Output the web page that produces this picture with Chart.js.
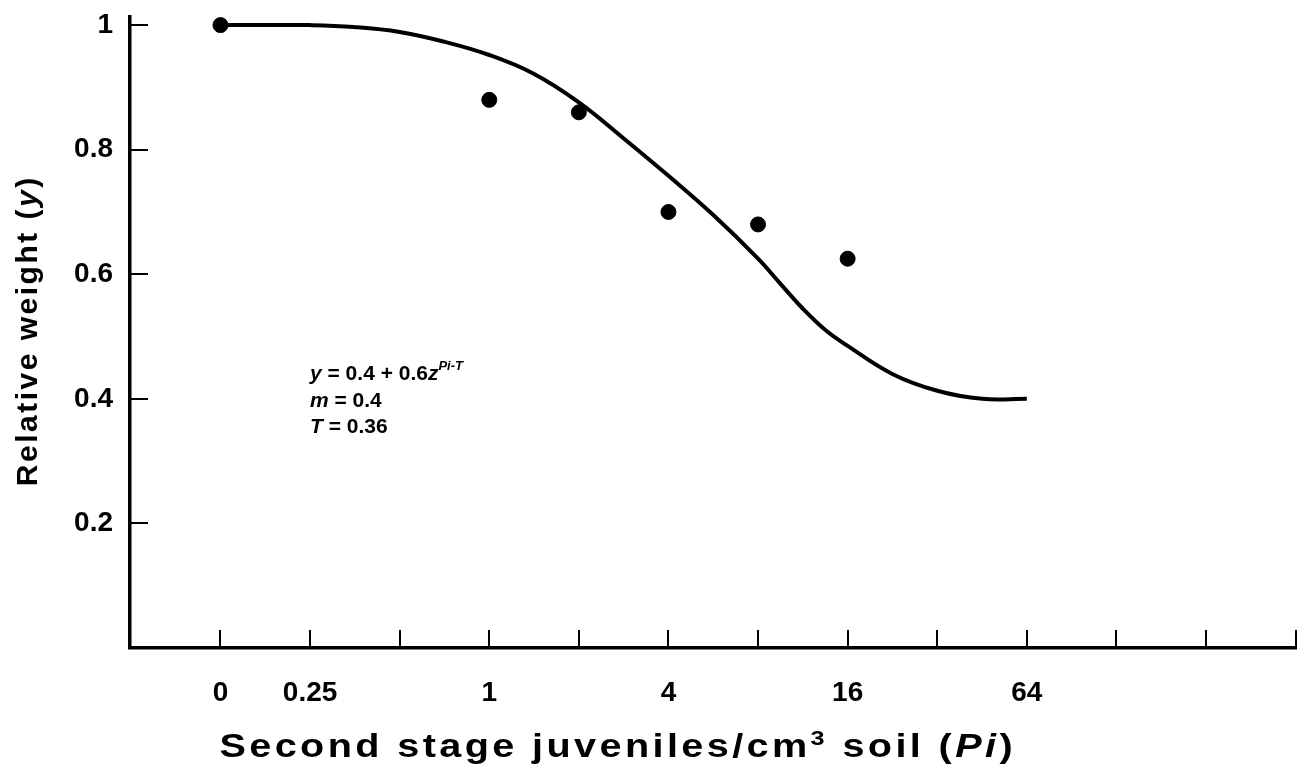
<!DOCTYPE html>
<html>
<head>
<meta charset="utf-8">
<script src="https://cdn.jsdelivr.net/npm/chart.js@4.4.1/dist/chart.umd.min.js"></script>
<style>
html, body { margin: 0; padding: 0; background: #fff; }
</style>
</head>
<body>
<canvas id="graph" width="1305" height="772"></canvas>
<script>
// x axis is log2 of Pi, with 0 drawn one step left of 0.25
var tickLabels = ['0', '0.25', '', '1', '', '4', '', '16', '', '64', '', '', ''];
var yTicks = [0.2, 0.4, 0.6, 0.8, 1];

var obsPi = [0, 1, 2, 4, 8, 16];
var obsWeight = [1.0, 0.88, 0.86, 0.70, 0.68, 0.625];

var curvePi = [0, 0.18, 0.25, 0.35, 0.5, 0.71, 1, 1.41, 2, 2.83, 4, 5.66, 8, 9.5, 11.3, 13.5, 16, 22.6, 32, 45.3, 64];
var curveWeight = [1.0, 1.0, 1.0, 0.997, 0.989, 0.973, 0.952, 0.922, 0.876, 0.818, 0.758, 0.695, 0.625, 0.585, 0.545, 0.51, 0.485, 0.44, 0.413, 0.40, 0.40];

var FONT = '"Liberation Sans", Arial, sans-serif';

function pos(pi) {
    return pi === 0 ? 0 : Math.log2(pi) + 3;
}

function toPoints(xs, ys) {
    var out = [];
    for (var i = 0; i < xs.length; i++) {
        out.push({ x: pos(xs[i]), y: ys[i] });
    }
    return out;
}

// draw a run of text pieces with their own styles, ls = extra space after each char
function drawRuns(ctx, runs, x, y, ls) {
    var cx = x;
    ls = ls || 0;
    runs.forEach(function (r) {
        ctx.font = r.f;
        for (var i = 0; i < r.t.length; i++) {
            var ch = r.t[i];
            ctx.fillText(ch, cx, y + (r.dy || 0));
            cx += ctx.measureText(ch).width + ls;
        }
    });
    return cx - x;
}

function runsWidth(ctx, runs, ls) {
    var w = 0;
    ls = ls || 0;
    runs.forEach(function (r) {
        ctx.font = r.f;
        for (var i = 0; i < r.t.length; i++) {
            w += ctx.measureText(r.t[i]).width + ls;
        }
    });
    return w - ls;
}

var decor = {
    id: 'decor',
    afterDraw: function (chart) {
        var ctx = chart.ctx;
        var xs = chart.scales.x, ys = chart.scales.y;
        var area = chart.chartArea;
        ctx.save();
        ctx.strokeStyle = '#000';
        ctx.fillStyle = '#000';
        ctx.lineWidth = 2;
        // inward tick marks
        for (var i = 0; i < tickLabels.length; i++) {
            var px = Math.round(xs.getPixelForValue(i));
            ctx.beginPath();
            ctx.moveTo(px, area.bottom);
            ctx.lineTo(px, area.bottom - 18);
            ctx.stroke();
        }
        yTicks.forEach(function (v) {
            var py = Math.round(ys.getPixelForValue(v));
            ctx.beginPath();
            ctx.moveTo(area.left, py);
            ctx.lineTo(area.left + 18, py);
            ctx.stroke();
        });

        ctx.textBaseline = 'alphabetic';
        ctx.textAlign = 'left';

        // x title, slightly stretched like the scanned original
        var xt = [
            { t: 'Second stage juveniles/cm', f: 'bold 33px ' + FONT },
            { t: '3', f: 'bold 21px ' + FONT, dy: -12 },
            { t: ' soil (', f: 'bold 33px ' + FONT },
            { t: 'Pi', f: 'italic bold 33px ' + FONT },
            { t: ')', f: 'bold 33px ' + FONT }
        ];
        var sx = 1.2;
        var w = runsWidth(ctx, xt, 3.4 / sx) * sx;
        ctx.save();
        ctx.translate(616 - w / 2, 757);
        ctx.scale(sx, 1);
        drawRuns(ctx, xt, 0, 0, 3.4 / sx);
        ctx.restore();

        // y title
        var yt = [
            { t: 'Relative weight (', f: 'bold 30px ' + FONT },
            { t: 'y', f: 'italic bold 30px ' + FONT },
            { t: ')', f: 'bold 30px ' + FONT }
        ];
        w = runsWidth(ctx, yt, 2.5);
        ctx.save();
        ctx.translate(37, 332);
        ctx.rotate(-Math.PI / 2);
        drawRuns(ctx, yt, -w / 2, 0, 2.5);
        ctx.restore();

        // equation block
        var b = 'bold 21px ' + FONT, bi = 'italic bold 21px ' + FONT;
        drawRuns(ctx, [
            { t: 'y', f: bi },
            { t: ' = 0.4 + 0.6', f: b },
            { t: 'z', f: bi },
            { t: 'Pi-T', f: 'italic bold 13px ' + FONT, dy: -10 }
        ], 310, 380);
        drawRuns(ctx, [{ t: 'm', f: bi }, { t: ' = 0.4', f: b }], 310, 407);
        drawRuns(ctx, [{ t: 'T', f: bi }, { t: ' = 0.36', f: b }], 310, 433);
        ctx.restore();
    }
};

var graph = new Chart(document.getElementById('graph'), {
    type: 'scatter',
    data: {
        datasets: [
            {
                type: 'line',
                label: 'fit',
                data: toPoints(curvePi, curveWeight),
                borderColor: '#000',
                borderWidth: 4,
                pointRadius: 0,
                tension: 0.4,
                fill: false
            },
            {
                label: 'observed',
                data: toPoints(obsPi, obsWeight),
                backgroundColor: '#000',
                borderColor: '#000',
                pointRadius: 7.5,
                pointHoverRadius: 7.5
            }
        ]
    },
    options: {
        responsive: false,
        animation: false,
        devicePixelRatio: 1,
        layout: { padding: { top: 17, right: 4, left: 0, bottom: 0 } },
        plugins: {
            legend: { display: false },
            tooltip: { enabled: false }
        },
        scales: {
            x: {
                type: 'linear',
                min: -1.01,
                max: 12.01,
                afterFit: function (s) {
                    s.height = 124;
                    s.paddingLeft = 0;
                    s.paddingRight = 0;
                },
                afterBuildTicks: function (s) {
                    s.ticks = tickLabels.map(function (l, i) { return { value: i }; });
                },
                ticks: {
                    autoSkip: false,
                    maxRotation: 0,
                    padding: 28,
                    color: '#000',
                    font: { family: FONT, size: 28, weight: 'bold' },
                    callback: function (v) { return tickLabels[v] || ''; }
                },
                grid: { display: false, drawTicks: false },
                border: { display: true, color: '#000', width: 3.5 }
            },
            y: {
                min: 0,
                max: 1.013,
                afterFit: function (s) {
                    s.width = 130;
                    s.paddingTop = 0;
                    s.paddingBottom = 0;
                },
                afterBuildTicks: function (s) {
                    s.ticks = yTicks.map(function (v) { return { value: v }; });
                },
                ticks: {
                    padding: 17,
                    color: '#000',
                    font: { family: FONT, size: 28, weight: 'bold' },
                    callback: function (v) { return String(v); }
                },
                grid: { display: false, drawTicks: false },
                border: { display: true, color: '#000', width: 3.5 }
            }
        }
    },
    plugins: [decor]
});
</script>
</body>
</html>
